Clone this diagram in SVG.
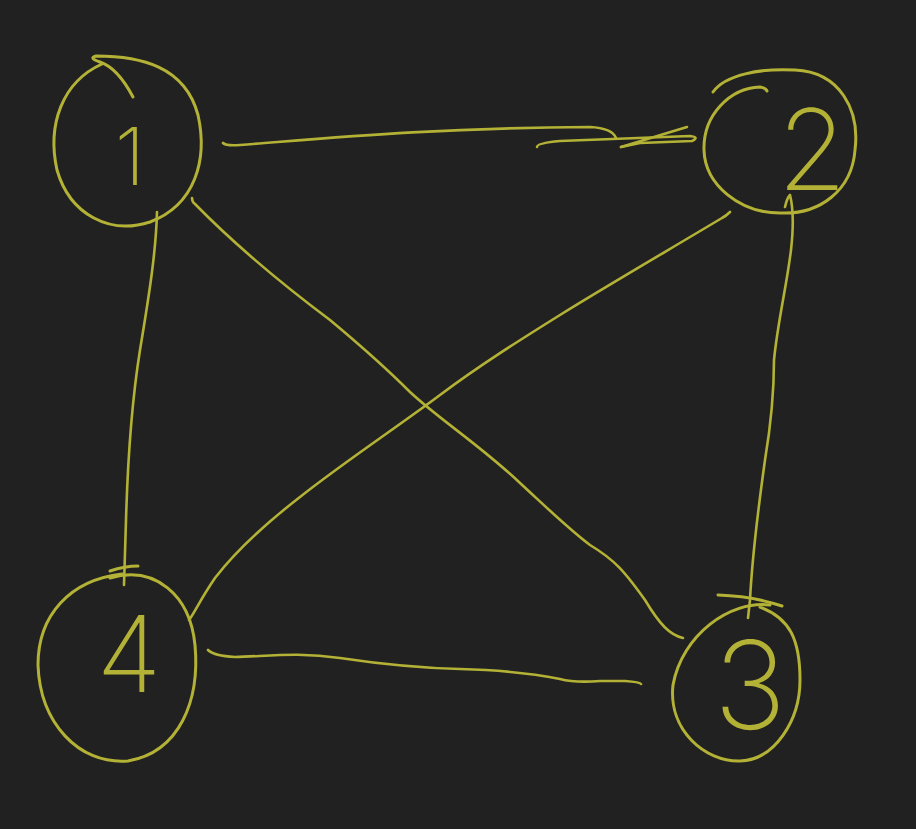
<svg xmlns="http://www.w3.org/2000/svg" width="916" height="829" viewBox="0 0 916 829">
<style>
.s{fill:none;stroke:#b3b236;stroke-width:2.6;stroke-linecap:round;stroke-linejoin:round}
.n{fill:none;stroke:#b3b236;stroke-width:3;stroke-linecap:round;stroke-linejoin:round}
.t{fill:#b3b236;font-family:Inter,"DejaVu Sans",sans-serif;font-weight:200;text-anchor:middle}
</style>
<rect width="916" height="829" fill="#212121"/>
<g id="connectors">
<path class="s" d="M223,143 Q226,146 240,145 C330,138 430,128 590,127 Q612,128 616,138"/>
<path class="s" d="M537,147 Q537,143 560,141 L690,136 Q700,137 692,141 L640,143 L621,147"/>
<path class="s" d="M621,147 L687,127"/>
<path class="s" d="M157,212 C156,250 150,290 140,350 C132,400 128,450 126,520 L124,585"/>
<path class="s" d="M192,198 Q192,202 195,204 C240,250 290,290 330,320 C360,345 380,362 410,392 C440,420 480,445 520,483 C560,520 570,530 590,545 C615,560 625,572 645,600 C660,625 670,635 683,638"/>
<path class="s" d="M730,212 Q726,216 722,218 C660,255 600,290 560,315 C520,340 480,365 440,395 C400,425 340,465 300,497 C260,528 235,552 215,578 C200,600 195,612 189,620"/>
<path class="s" d="M785,207 Q787,198 790,195 Q795,215 791,250 C786,290 778,320 774,360 C774,400 770,430 765,460 C758,510 752,560 750,600 L748,618"/>
<path class="s" d="M208,650 Q214,656 235,657 C270,656 300,652 340,658 C380,664 420,668 460,669 C500,670 530,673 560,679 Q575,683 600,681 L625,681 Q640,682 641,684"/>
</g>
<g id="node1">
<path class="n" d="M133,97 C124,80 112,66 100,62 Q88,58 96,56 C140,56 185,66 198,115 C208,160 195,205 150,222 C110,235 70,215 57,170 C47,125 62,82 102,64"/>
<text class="t" x="130" y="185" font-size="80">1</text>
</g>
<g id="node2">
<path class="n" d="M713,92 C725,75 760,68 795,70 C840,72 860,110 855,150 C852,190 820,215 780,213 C740,213 705,185 704,150 C703,115 730,88 760,87 Q766,88 767,91"/>
<text class="t" x="812" y="190" font-size="112">2</text>
</g>
<g id="node3">
<path class="n" d="M718,595 Q752,596 782,606"/>
<path class="n" d="M770,605 C730,600 682,635 673,685 C668,730 705,762 740,761 C775,760 800,720 800,680 C800,640 790,618 760,607"/>
<text class="t" x="750" y="729" font-size="122">3</text>
</g>
<g id="node4">
<path class="n" d="M110,571 Q125,566 138,566"/>
<path class="n" d="M110,578 C155,565 190,595 195,645 C200,700 180,752 128,761 C78,765 40,722 38,665 C38,615 70,580 122,574"/>
<text class="t" x="129" y="692" font-size="106">4</text>
</g>
</svg>
